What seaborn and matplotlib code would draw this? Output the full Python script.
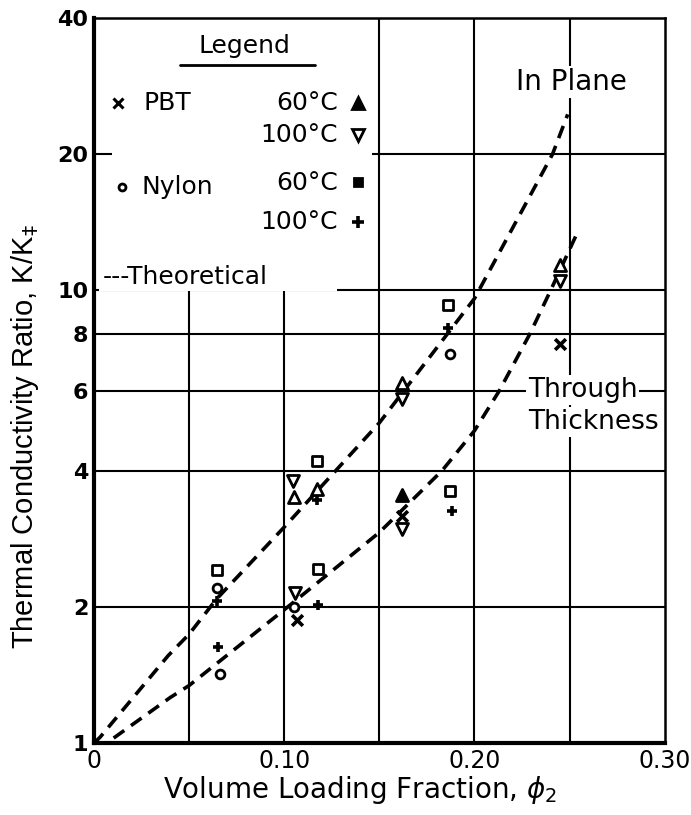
import matplotlib
matplotlib.use("Agg")
import pandas as pd
import matplotlib.pyplot as plt
import seaborn as sns
from matplotlib.patches import Rectangle

# values
pbt_x = [0.1065, 0.162, 0.245]
pbt_y = [1.87, 3.17, 7.6]
pbt60_x = [0.105, 0.117, 0.162, 0.245]
pbt60_y = [3.50, 3.65, 6.25, 11.4]
pbt60_solid_x = [0.162]
pbt60_solid_y = [3.54]
pbt100_x = [0.1045, 0.1055, 0.162, 0.162, 0.245]
pbt100_y = [3.80, 2.15, 2.97, 5.75, 10.5]
nylon_x = [0.066, 0.0644, 0.105, 0.187]
nylon_y = [1.42, 2.20, 2.0, 7.24]
nylon60_x = [0.0644, 0.117, 0.118, 0.186, 0.187]
nylon60_y = [2.41, 4.19, 2.42, 9.27, 3.60]
nylon100_x = [0.065, 0.0644, 0.117, 0.118, 0.186, 0.188]
nylon100_y = [1.63, 2.06, 3.44, 2.02, 8.25, 3.25]

inplane_x = [0.0, 0.0032, 0.039, 0.05, 0.0644, 0.10, 0.15, 0.20, 0.241, 0.249]
inplane_y = [1.0, 1.03, 1.56, 1.74, 2.08, 3.0, 5.1, 9.6, 20.0, 24.5]
through_x = [0.0, 0.0067, 0.040, 0.05, 0.10, 0.15, 0.183, 0.20, 0.213, 0.229, 0.24, 0.254]
through_y = [1.0, 1.0, 1.26, 1.34, 1.97, 2.92, 4.0, 4.9, 6.0, 8.0, 10.0, 13.4]

y_ticks = [1, 2, 4, 6, 8, 10, 20, 40]
x_ticks = [0, 0.10, 0.20, 0.30]
x_tick_labels = ["0", "0.10", "0.20", "0.30"]
y_grid = [2, 4, 6, 8, 10, 20]
x_grid = [0.05, 0.10, 0.15, 0.20, 0.25]

sns.set_style("white")
plt.rcParams["font.family"] = ["DejaVu Sans"]
for k in ["text.color", "axes.labelcolor", "xtick.color", "ytick.color"]:
    plt.rcParams[k] = "black"

fig = plt.figure(figsize=(6.91, 8.15), dpi=100)
ax = fig.add_axes([0.136, 0.0883, 0.826, 0.8896])

ax.set_yscale("log")
ax.set_xlim(0, 0.30)
ax.set_ylim(1, 40)

for g in y_grid:
    ax.axhline(g, color="black", lw=1.5, zorder=1)
for g in x_grid:
    ax.axvline(g, color="black", lw=1.5, zorder=1)

# theoretical curves
dash = (0, (3.6, 2.3))
sns.lineplot(x=inplane_x, y=inplane_y, ax=ax, color="black", lw=2.6,
             linestyle=dash, zorder=3, estimator=None)
sns.lineplot(x=through_x, y=through_y, ax=ax, color="black", lw=2.6,
             linestyle=dash, zorder=3, estimator=None)

# measured points
series = [
    (pbt_x, pbt_y, "x", "black", 60),
    (pbt60_x, pbt60_y, "^", "white", 75),
    (pbt60_solid_x, pbt60_solid_y, "^", "black", 75),
    (pbt100_x, pbt100_y, "v", "white", 75),
    (nylon_x, nylon_y, "o", "white", 40),
    (nylon60_x, nylon60_y, "s", "white", 45),
    (nylon100_x, nylon100_y, "+", "black", 60),
]
for xs, ys, m, fc, s in series:
    df = pd.DataFrame({"phi": xs, "ratio": ys})
    if m in ("x", "+"):
        sns.scatterplot(data=df, x="phi", y="ratio", ax=ax, marker=m,
                        color="black", s=s, linewidth=2.6, zorder=4)
    else:
        sns.scatterplot(data=df, x="phi", y="ratio", ax=ax, marker=m,
                        facecolor=fc, edgecolor="black", s=s,
                        linewidth=2.0, zorder=4)

ax.set_yticks(y_ticks)
ax.set_yticklabels([str(t) for t in y_ticks], fontsize=16, fontweight="bold")
ax.yaxis.set_minor_locator(matplotlib.ticker.NullLocator())
ax.set_xticks(x_ticks)
ax.set_xticklabels(x_tick_labels, fontsize=17)
ax.tick_params(length=0, pad=4)

for side in ["left", "bottom"]:
    ax.spines[side].set_linewidth(3)
for side in ["top", "right"]:
    ax.spines[side].set_linewidth(1.8)
for sp in ax.spines.values():
    sp.set_color("black")
    sp.set_zorder(6)

ax.set_ylabel("Thermal Conductivity Ratio, K/K$_{\\ddag}$",
              fontsize=21, family="Liberation Sans")
ax.yaxis.set_label_coords(-0.093, 0.423)
ax.set_xlabel("Volume Loading Fraction, $\\phi_2$", fontsize=20)
ax.xaxis.set_label_coords(0.466, -0.043)

# legend block drawn by hand, like the original lettering
tr = ax.transAxes
ax.add_patch(Rectangle((0.0315, 0.636), 0.455, 0.364, transform=tr,
                       facecolor="white", edgecolor="none", zorder=2))
ax.add_patch(Rectangle((0.008, 0.624), 0.418, 0.04, transform=tr,
                       facecolor="white", edgecolor="none", zorder=2))

txt = dict(transform=tr, fontsize=18, va="center", zorder=7)
ax.text(0.264, 0.961, "Legend", ha="center", **txt)
ax.plot([0.151, 0.387], [0.935, 0.935], transform=tr, color="black", lw=2, zorder=7)
ax.text(0.086, 0.883, "PBT", ha="left", **txt)
ax.text(0.427, 0.883, "60°C", ha="right", **txt)
ax.text(0.427, 0.839, "100°C", ha="right", **txt)
ax.text(0.084, 0.767, "Nylon", ha="left", **txt)
ax.text(0.427, 0.772, "60°C", ha="right", **txt)
ax.text(0.427, 0.719, "100°C", ha="right", **txt)
ax.text(0.016, 0.643, "---Theoretical", ha="left", **txt)

key = dict(transform=tr, color="black", zorder=7, clip_on=False, ls="none")
ax.plot(0.042, 0.883, marker="x", ms=7, mew=2.2, **key)
ax.plot(0.462, 0.883, marker="^", ms=8, mew=2, mfc="black", **key)
ax.plot(0.462, 0.839, marker="v", ms=8, mew=2, mfc="white", **key)
ax.plot(0.049, 0.767, marker="o", ms=5, mew=2, mfc="white", **key)
ax.plot(0.462, 0.774, marker="s", ms=6, mew=2, mfc="black", **key)
ax.plot(0.462, 0.719, marker="+", ms=8, mew=2.6, **key)

box = dict(facecolor="white", edgecolor="none", pad=1.5)
ax.text(0.837, 0.912, "In Plane", transform=tr, fontsize=20, ha="center",
        va="center", zorder=7, bbox=box)
ax.text(0.760, 0.487, "Through", transform=tr, fontsize=19, ha="left",
        va="center", zorder=7, bbox=box)
ax.text(0.760, 0.443, "Thickness", transform=tr, fontsize=19, ha="left",
        va="center", zorder=7, bbox=box)

fig.savefig("out.png", dpi=100)
plt.close(fig)
